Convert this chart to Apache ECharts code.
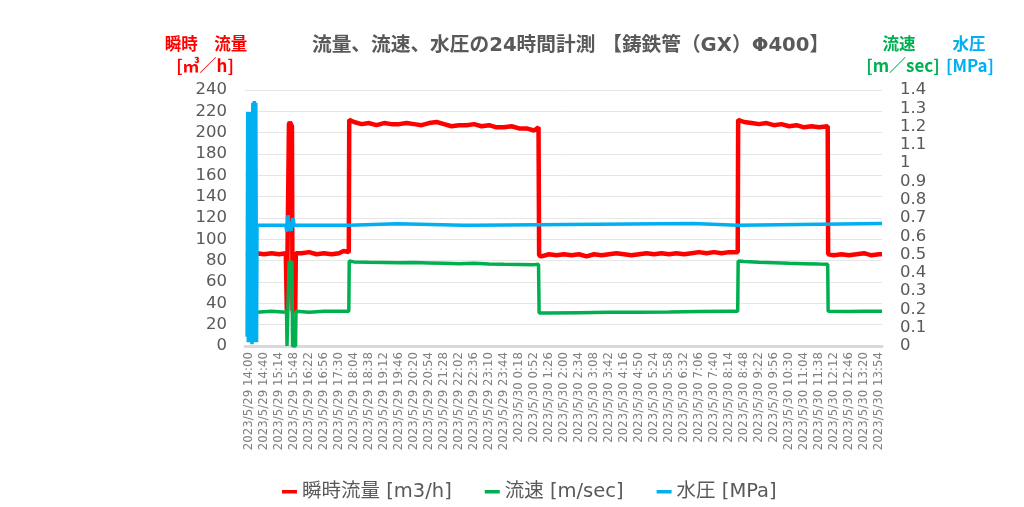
<!DOCTYPE html>
<html>
<head>
<meta charset="utf-8">
<script src="https://cdn.jsdelivr.net/npm/echarts@6/dist/echarts.min.js"></script>
<style>
html,body{margin:0;padding:0;background:#fff;}
#chart{width:1024px;height:507px;}
</style>
</head>
<body>
<div id="chart"></div>
<script>
// X tick labels (one every 34 minutes, first one at 14:00)
const xLabels = [
  '2023/5/29 14:00','2023/5/29 14:40','2023/5/29 15:14','2023/5/29 15:48','2023/5/29 16:22',
  '2023/5/29 16:56','2023/5/29 17:30','2023/5/29 18:04','2023/5/29 18:38','2023/5/29 19:12',
  '2023/5/29 19:46','2023/5/29 20:20','2023/5/29 20:54','2023/5/29 21:28','2023/5/29 22:02',
  '2023/5/29 22:36','2023/5/29 23:10','2023/5/29 23:44','2023/5/30 0:18','2023/5/30 0:52',
  '2023/5/30 1:26','2023/5/30 2:00','2023/5/30 2:34','2023/5/30 3:08','2023/5/30 3:42',
  '2023/5/30 4:16','2023/5/30 4:50','2023/5/30 5:24','2023/5/30 5:58','2023/5/30 6:32',
  '2023/5/30 7:06','2023/5/30 7:40','2023/5/30 8:14','2023/5/30 8:48','2023/5/30 9:22',
  '2023/5/30 9:56','2023/5/30 10:30','2023/5/30 11:04','2023/5/30 11:38','2023/5/30 12:12',
  '2023/5/30 12:46','2023/5/30 13:20','2023/5/30 13:54'
];
const seriesNames = ['瞬時流量 [m3/h]', '流速 [m/sec]', '水圧 [MPa]'];

// positions are in "tick label index" units along the time axis
const flowData = [
  [-0.14,84],[0,86],[0.5,87],[1,86],[1.5,87],[2,86],[2.45,87],
  [2.52,33],[2.62,33],[2.66,208],[2.72,210],[2.8,209],[2.86,206],[2.9,33],[3.08,33],[3.12,87],
  [3.5,87],[4,88],[4.5,86],[5,87],[5.5,86],[6,87],[6.3,89],[6.65,88],
  [6.68,212],[7,210],[7.5,208],[8,209],[8.5,207],[9,209],[9.5,208],[10,208],[10.5,209],
  [11,208],[11.5,207],[12,209],[12.5,210],[13,208],[13.5,206],[14,207],[14.5,207],[15,208],
  [15.5,206],[16,207],[16.5,205],[17,205],[17.5,206],[18,204],[18.5,204],[19,202],[19.3,205],
  [19.34,85],[19.5,84],[20,86],[20.5,85],[21,86],[21.5,85],[22,86],[22.5,84],[23,86],[23.5,85],
  [24,86],[24.5,87],[25,86],[25.5,85],[26,86],[26.5,87],[27,86],[27.5,87],[28,86],[28.5,87],
  [29,86],[29.5,87],[30,88],[30.5,87],[31,88],[31.5,87],[32,88],[32.58,88],
  [32.61,212],[33,210],[33.5,209],[34,208],[34.5,209],[35,207],[35.5,208],[36,206],[36.5,207],
  [37,205],[37.5,206],[38,205],[38.58,206],
  [38.61,86],[39,85],[39.5,86],[40,85],[40.5,86],[41,87],[41.5,85],[42,86],[42.2,86]
];
const velocityData = [
  [-0.15,0.18],[0.5,0.185],[1.5,0.19],[2.5,0.185],
  [2.53,0],[2.64,0],[2.67,0.46],[2.86,0.46],[2.9,0],[3.1,0],[3.13,0.19],
  [4,0.185],[5,0.19],[6,0.19],[6.65,0.19],
  [6.68,0.465],[7,0.46],[8,0.458],[9,0.457],[10,0.455],[11,0.456],[12,0.454],[13,0.452],
  [14,0.45],[15,0.452],[16,0.449],[17,0.447],[18,0.446],[19,0.445],[19.3,0.447],
  [19.34,0.18],[20,0.18],[22,0.182],[24,0.184],[26,0.185],[28,0.186],[30,0.188],[32,0.19],[32.58,0.19],
  [32.61,0.465],[33,0.462],[34,0.458],[35,0.455],[36,0.452],[37,0.45],[38,0.448],[38.58,0.447],
  [38.61,0.19],[40,0.188],[41,0.19],[42.2,0.19]
];
const pressureData = [
  [-0.13,0.05],[-0.09,1.28],[-0.05,0.02],[-0.01,1.27],[0.03,0.03],[0.07,1.28],[0.11,0.02],
  [0.15,1.28],[0.2,0.01],[0.25,1.33],[0.3,0.02],[0.35,1.34],[0.4,0.03],[0.45,1.33],[0.5,0.02],
  [0.53,0.66],[1.5,0.66],[2.45,0.66],
  [2.53,0.625],[2.6,0.715],[2.67,0.66],[2.8,0.63],[2.93,0.70],[3.0,0.66],
  [6.67,0.66],[6.7,0.668],[9.9,0.668],[9.95,0.66],[14.3,0.66],[14.35,0.668],[14.45,0.66],
  [14.9,0.66],[14.95,0.67],[29.6,0.67],[29.65,0.661],[32.55,0.661],[32.65,0.67],[42.2,0.67]
];

const tickIdx = xLabels.map((_, i) => i);
const leftTicks = {min: 0, max: 240, interval: 20};
const rightTicks = {min: 0, max: 1.4, interval: 0.1};

const chart = echarts.init(document.getElementById('chart'), null, {renderer: 'canvas'});
const axisFont = "'DejaVu Sans', 'Noto Sans CJK JP', sans-serif";

chart.setOption({
  animation: false,
  backgroundColor: '#ffffff',
  title: {
    text: '流量、流速、水圧の24時間計測 【鋳鉄管（GX）Φ400】',
    left: 307, top: 31,
    textStyle: {fontFamily: axisFont, fontSize: 19.7, fontWeight: 'bold', color: '#595959'}
  },
  graphic: [
    {type: 'text', x: 206, y: 44, style: {text: '瞬時　流量', fill: '#ff0000', font: "bold 16.5px 'Noto Sans CJK JP'", align: 'center', verticalAlign: 'middle'}},
    {type: 'text', x: 205, y: 66, style: {text: '[㎥／h]', fill: '#ff0000', font: "bold 17px 'Noto Sans CJK JP'", align: 'center', verticalAlign: 'middle'}},
    {type: 'text', x: 899, y: 44, style: {text: '流速', fill: '#00b050', font: "bold 16.5px 'Noto Sans CJK JP'", align: 'center', verticalAlign: 'middle'}},
    {type: 'text', x: 903, y: 66, style: {text: '[m／sec]', fill: '#00b050', font: "bold 17px 'Noto Sans CJK JP'", align: 'center', verticalAlign: 'middle'}},
    {type: 'text', x: 969, y: 44, style: {text: '水圧', fill: '#00b0f0', font: "bold 16.5px 'Noto Sans CJK JP'", align: 'center', verticalAlign: 'middle'}},
    {type: 'text', x: 970, y: 66, style: {text: '[MPa]', fill: '#00b0f0', font: "bold 17px 'Noto Sans CJK JP'", align: 'center', verticalAlign: 'middle'}}
  ],
  legend: {
    data: seriesNames,
    left: 277, top: 477,
    icon: 'rect', itemWidth: 15, itemHeight: 3.5, itemGap: 33,
    textStyle: {fontFamily: axisFont, fontSize: 19.5, color: '#595959'}
  },
  grid: {left: 245, right: 142, top: 90, bottom: 161, containLabel: false},
  xAxis: {
    type: 'value', min: -0.27, max: 42.2,
    axisLine: {show: true, lineStyle: {color: '#d9d9d9', width: 3}},
    axisTick: {show: false},
    splitLine: {show: false},
    axisLabel: {
      customValues: tickIdx,
      rotate: 90, margin: 6,
      fontFamily: axisFont, fontSize: 11.8, color: '#808080',
      formatter: v => xLabels[Math.round(v)] || ''
    }
  },
  yAxis: [
    {
      type: 'value', position: 'left', min: leftTicks.min, max: leftTicks.max, interval: leftTicks.interval,
      axisLine: {show: false}, axisTick: {show: false},
      splitLine: {show: true, lineStyle: {color: '#e6e6e6', width: 1}},
      axisLabel: {margin: 18, fontFamily: axisFont, fontSize: 16.5, color: '#595959'}
    },
    {
      type: 'value', position: 'right', min: rightTicks.min, max: rightTicks.max, interval: rightTicks.interval,
      axisLine: {show: false}, axisTick: {show: false},
      splitLine: {show: false},
      axisLabel: {margin: 18, fontFamily: axisFont, fontSize: 16.5, color: '#595959',
        formatter: v => String(Math.round(v * 10) / 10)}
    }
  ],
  series: [
    {name: seriesNames[0], type: 'line', yAxisIndex: 0, data: flowData, showSymbol: false, symbol: 'none',
     color: '#ff0000', lineStyle: {color: '#ff0000', width: 4.5}},
    {name: seriesNames[1], type: 'line', yAxisIndex: 1, data: velocityData, showSymbol: false, symbol: 'none',
     color: '#00b050', lineStyle: {color: '#00b050', width: 3.5}},
    {name: seriesNames[2], type: 'line', yAxisIndex: 1, data: pressureData, showSymbol: false, symbol: 'none',
     color: '#00b0f0', lineStyle: {color: '#00b0f0', width: 3.5}}
  ]
});
</script>
</body>
</html>
